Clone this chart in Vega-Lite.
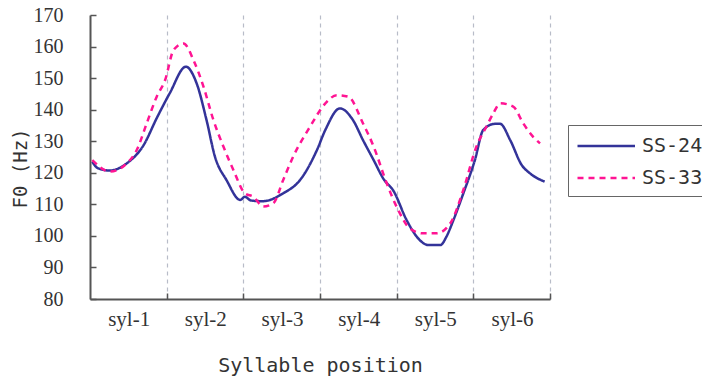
{
  "$schema": "https://vega.github.io/schema/vega-lite/v6.json",
  "width": 460,
  "height": 284,
  "autosize": {"type": "none"},
  "padding": {"left": 90, "top": 15, "right": 152, "bottom": 81},
  "background": "white",
  "config": {"view": {"stroke": null}},
  "data": {"values": [
    {"speaker": "SS-24", "t": 0.03, "f0": 123.5},
    {"speaker": "SS-24", "t": 0.1, "f0": 121.5},
    {"speaker": "SS-24", "t": 0.26, "f0": 120.7},
    {"speaker": "SS-24", "t": 0.48, "f0": 123},
    {"speaker": "SS-24", "t": 0.7, "f0": 128.8},
    {"speaker": "SS-24", "t": 0.87, "f0": 137.3},
    {"speaker": "SS-24", "t": 1.04, "f0": 145.2},
    {"speaker": "SS-24", "t": 1.25, "f0": 153.6},
    {"speaker": "SS-24", "t": 1.39, "f0": 148.4},
    {"speaker": "SS-24", "t": 1.52, "f0": 136.7},
    {"speaker": "SS-24", "t": 1.63, "f0": 125.1},
    {"speaker": "SS-24", "t": 1.78, "f0": 117.7},
    {"speaker": "SS-24", "t": 1.96, "f0": 111.4},
    {"speaker": "SS-24", "t": 2.02, "f0": 112.4},
    {"speaker": "SS-24", "t": 2.1, "f0": 111.2},
    {"speaker": "SS-24", "t": 2.26, "f0": 111},
    {"speaker": "SS-24", "t": 2.52, "f0": 113.5},
    {"speaker": "SS-24", "t": 2.74, "f0": 117.7},
    {"speaker": "SS-24", "t": 2.96, "f0": 127.2},
    {"speaker": "SS-24", "t": 3.07, "f0": 133.6},
    {"speaker": "SS-24", "t": 3.26, "f0": 140.4},
    {"speaker": "SS-24", "t": 3.43, "f0": 136.7},
    {"speaker": "SS-24", "t": 3.56, "f0": 130.4},
    {"speaker": "SS-24", "t": 3.7, "f0": 124},
    {"speaker": "SS-24", "t": 3.83, "f0": 118},
    {"speaker": "SS-24", "t": 3.96, "f0": 114.2},
    {"speaker": "SS-24", "t": 4.13, "f0": 105},
    {"speaker": "SS-24", "t": 4.3, "f0": 98.7},
    {"speaker": "SS-24", "t": 4.41, "f0": 97.1},
    {"speaker": "SS-24", "t": 4.57, "f0": 97.1},
    {"speaker": "SS-24", "t": 4.65, "f0": 99.8},
    {"speaker": "SS-24", "t": 4.74, "f0": 105},
    {"speaker": "SS-24", "t": 4.87, "f0": 113.5},
    {"speaker": "SS-24", "t": 5.02, "f0": 124},
    {"speaker": "SS-24", "t": 5.13, "f0": 133.6},
    {"speaker": "SS-24", "t": 5.28, "f0": 135.5},
    {"speaker": "SS-24", "t": 5.35, "f0": 135.5},
    {"speaker": "SS-24", "t": 5.48, "f0": 130.4},
    {"speaker": "SS-24", "t": 5.63, "f0": 122.5},
    {"speaker": "SS-24", "t": 5.74, "f0": 119.8},
    {"speaker": "SS-24", "t": 5.93, "f0": 117.2},
    {"speaker": "SS-33", "t": 0.03, "f0": 124},
    {"speaker": "SS-33", "t": 0.26, "f0": 120.4},
    {"speaker": "SS-33", "t": 0.48, "f0": 123},
    {"speaker": "SS-33", "t": 0.61, "f0": 127.2},
    {"speaker": "SS-33", "t": 0.74, "f0": 135.7},
    {"speaker": "SS-33", "t": 0.87, "f0": 144.1},
    {"speaker": "SS-33", "t": 0.98, "f0": 149.4},
    {"speaker": "SS-33", "t": 1.09, "f0": 158.9},
    {"speaker": "SS-33", "t": 1.22, "f0": 161},
    {"speaker": "SS-33", "t": 1.35, "f0": 155.7},
    {"speaker": "SS-33", "t": 1.48, "f0": 147.3},
    {"speaker": "SS-33", "t": 1.61, "f0": 136.7},
    {"speaker": "SS-33", "t": 1.74, "f0": 128.3},
    {"speaker": "SS-33", "t": 1.87, "f0": 120.9},
    {"speaker": "SS-33", "t": 2.02, "f0": 113.5},
    {"speaker": "SS-33", "t": 2.13, "f0": 112.4},
    {"speaker": "SS-33", "t": 2.26, "f0": 109.3},
    {"speaker": "SS-33", "t": 2.39, "f0": 110.3},
    {"speaker": "SS-33", "t": 2.52, "f0": 117.7},
    {"speaker": "SS-33", "t": 2.65, "f0": 125.1},
    {"speaker": "SS-33", "t": 2.87, "f0": 134.6},
    {"speaker": "SS-33", "t": 3.07, "f0": 142},
    {"speaker": "SS-33", "t": 3.22, "f0": 144.6},
    {"speaker": "SS-33", "t": 3.37, "f0": 144.1},
    {"speaker": "SS-33", "t": 3.56, "f0": 135.7},
    {"speaker": "SS-33", "t": 3.7, "f0": 128.3},
    {"speaker": "SS-33", "t": 3.87, "f0": 116.7},
    {"speaker": "SS-33", "t": 4.02, "f0": 108.2},
    {"speaker": "SS-33", "t": 4.17, "f0": 102.4},
    {"speaker": "SS-33", "t": 4.35, "f0": 100.8},
    {"speaker": "SS-33", "t": 4.52, "f0": 100.8},
    {"speaker": "SS-33", "t": 4.7, "f0": 104},
    {"speaker": "SS-33", "t": 4.87, "f0": 114.6},
    {"speaker": "SS-33", "t": 5.04, "f0": 128.3},
    {"speaker": "SS-33", "t": 5.17, "f0": 134.6},
    {"speaker": "SS-33", "t": 5.26, "f0": 138.8},
    {"speaker": "SS-33", "t": 5.35, "f0": 142},
    {"speaker": "SS-33", "t": 5.52, "f0": 141},
    {"speaker": "SS-33", "t": 5.65, "f0": 135.7},
    {"speaker": "SS-33", "t": 5.78, "f0": 131.4},
    {"speaker": "SS-33", "t": 5.87, "f0": 129.3}
  ]},
  "mark": {"type": "line", "strokeWidth": 2.5, "interpolate": "monotone"},
  "encoding": {
    "x": {
      "field": "t", "type": "quantitative",
      "scale": {"domain": [0, 6], "nice": false, "zero": false},
      "axis": {
        "title": "Syllable position",
        "values": [1, 2, 3, 4, 5, 6],
        "labelExpr": "'syl-' + datum.value",
        "labelOffset": -38,
        "labelFlush": false,
        "labelOverlap": false,
        "grid": true, "gridColor": "#b8bcc8", "gridDash": [4, 4], "gridWidth": 1.2,
        "domainColor": "#555", "domainWidth": 2,
        "tickColor": "#555", "tickSize": -6, "tickWidth": 1.5,
        "labelFont": "Liberation Serif", "labelFontSize": 21, "labelPadding": 15, "labelColor": "#333",
        "titleFont": "DejaVu Sans Mono", "titleFontSize": 20, "titleFontWeight": "normal", "titleColor": "#333",
        "titleY": 66, "titleBaseline": "middle"
      }
    },
    "y": {
      "field": "f0", "type": "quantitative",
      "scale": {"domain": [80, 170], "nice": false, "zero": false},
      "axis": {
        "title": "F0 (Hz)",
        "values": [80, 90, 100, 110, 120, 130, 140, 150, 160, 170],
        "grid": false,
        "domainColor": "#555", "domainWidth": 2,
        "tickColor": "#555", "tickSize": -6, "tickWidth": 1.5,
        "labelFont": "Liberation Serif", "labelFontSize": 20, "labelPadding": 33, "labelColor": "#333",
        "titleFont": "DejaVu Sans Mono", "titleFontSize": 19, "titleFontWeight": "normal", "titleColor": "#333",
        "titleX": -70, "titleY": 153, "titleAngle": -90, "titleAlign": "center", "titleBaseline": "middle"
      }
    },
    "color": {
      "field": "speaker", "type": "nominal",
      "scale": {"domain": ["SS-24", "SS-33"], "range": ["#333399", "#ff1493"]},
      "legend": {
        "title": null, "orient": "none", "legendX": 478, "legendY": 110,
        "strokeColor": "#666", "fillColor": "white", "padding": 8,
        "symbolType": "M-1,0H4", "symbolSize": 529, "symbolStrokeWidth": 2.5,
        "labelFont": "DejaVu Sans Mono", "labelFontSize": 20, "labelColor": "#333",
        "labelOffset": 40, "rowPadding": 9
      }
    },
    "strokeDash": {
      "field": "speaker", "type": "nominal",
      "scale": {"domain": ["SS-24", "SS-33"], "range": [[1, 0], [6, 5]]},
      "legend": {
        "title": null, "orient": "none", "legendX": 478, "legendY": 110,
        "strokeColor": "#666", "fillColor": "white", "padding": 8,
        "symbolType": "M-1,0H4", "symbolSize": 529, "symbolStrokeWidth": 2.5,
        "labelFont": "DejaVu Sans Mono", "labelFontSize": 20, "labelColor": "#333",
        "labelOffset": 40, "rowPadding": 9
      }
    }
  }
}
